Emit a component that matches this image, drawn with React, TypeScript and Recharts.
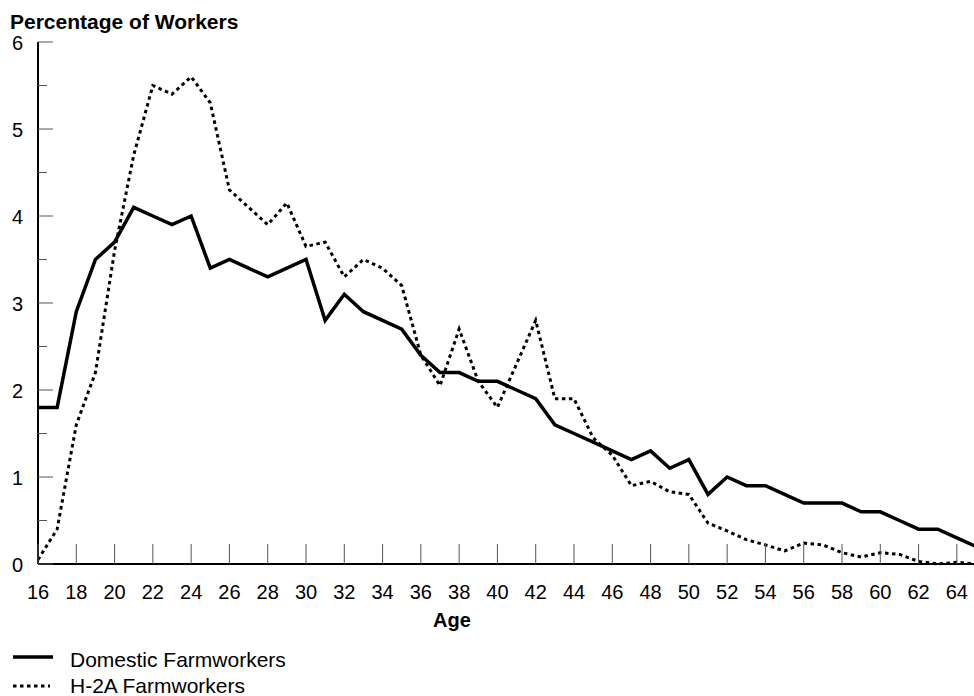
import { LineChart, Line, XAxis, YAxis } from 'recharts';

const FONT = '"Liberation Sans", Arial, sans-serif';

// age in years, one point per year
const ages = [
  16, 17, 18, 19, 20, 21, 22, 23, 24, 25, 26, 27, 28, 29, 30, 31, 32, 33, 34, 35,
  36, 37, 38, 39, 40, 41, 42, 43, 44, 45, 46, 47, 48, 49, 50, 51, 52, 53, 54, 55,
  56, 57, 58, 59, 60, 61, 62, 63, 64, 65,
];

const domestic = [
  1.8, 1.8, 2.9, 3.5, 3.7, 4.1, 4.0, 3.9, 4.0, 3.4, 3.5, 3.4, 3.3, 3.4, 3.5, 2.8, 3.1, 2.9, 2.8, 2.7,
  2.4, 2.2, 2.2, 2.1, 2.1, 2.0, 1.9, 1.6, 1.5, 1.4, 1.3, 1.2, 1.3, 1.1, 1.2, 0.8, 1.0, 0.9, 0.9, 0.8,
  0.7, 0.7, 0.7, 0.6, 0.6, 0.5, 0.4, 0.4, 0.3, 0.2,
];

const h2a = [
  0.05, 0.4, 1.6, 2.2, 3.6, 4.7, 5.5, 5.4, 5.6, 5.3, 4.3, 4.1, 3.9, 4.15, 3.65, 3.7, 3.3, 3.5, 3.4, 3.2,
  2.4, 2.05, 2.7, 2.1, 1.8, 2.3, 2.8, 1.9, 1.9, 1.45, 1.25, 0.9, 0.95, 0.83, 0.8, 0.47, 0.38, 0.28, 0.22, 0.15,
  0.24, 0.22, 0.13, 0.08, 0.13, 0.11, 0.03, 0.0, 0.02, 0.0,
];

const ageTicks = [16, 18, 20, 22, 24, 26, 28, 30, 32, 34, 36, 38, 40, 42, 44, 46, 48, 50, 52, 54, 56, 58, 60, 62, 64];
const pctTicks = [0, 0.5, 1, 1.5, 2, 2.5, 3, 3.5, 4, 4.5, 5, 5.5, 6];

const series = [
  { key: 'domestic', name: 'Domestic Farmworkers', width: 3.5, dash: undefined as string | undefined },
  { key: 'h2a', name: 'H-2A Farmworkers', width: 3, dash: '3.5 3.5' },
];

const data = ages.map((age, i) => ({ age, domestic: domestic[i], h2a: h2a[i] }));

function AgeTick({ x, y, payload }: any) {
  return (
    <g>
      <line x1={x} x2={x} y1={y} y2={y - 20} stroke="#555" strokeWidth={1} />
      <text x={x} y={y + 35} textAnchor="middle" fontSize={20} fontFamily={FONT} fill="#000">
        {payload.value}
      </text>
    </g>
  );
}

function PctTick({ x, y, payload }: any) {
  const major = Number.isInteger(payload.value);
  return (
    <g>
      <line x1={x} x2={x + (major ? 15 : 9)} y1={y} y2={y} stroke="#555" strokeWidth={1} />
      {major && (
        <text x={x - 15} y={y + 8} textAnchor="end" fontSize={20} fontFamily={FONT} fill="#000">
          {payload.value}
        </text>
      )}
    </g>
  );
}

export default function App() {
  return (
    <div style={{ position: 'absolute', left: 0, top: 0, width: 974, height: 696, overflow: 'hidden', background: '#fff' }}>
      <LineChart width={976} height={696} data={data} margin={{ top: 42, right: 0, bottom: 0, left: 0 }}>
        <XAxis
          dataKey="age"
          type="number"
          domain={[16, 65]}
          ticks={ageTicks}
          interval={0}
          height={132}
          tickSize={0}
          tickMargin={0}
          tickLine={false}
          axisLine={{ stroke: '#000', strokeWidth: 2 }}
          tick={<AgeTick />}
        />
        <YAxis
          type="number"
          domain={[0, 6]}
          ticks={pctTicks}
          interval={0}
          width={38}
          tickSize={0}
          tickMargin={0}
          tickLine={false}
          axisLine={{ stroke: '#000', strokeWidth: 2 }}
          tick={<PctTick />}
        />
        {series.map((s) => (
          <Line
            key={s.key}
            dataKey={s.key}
            name={s.name}
            type="linear"
            stroke="#000"
            strokeWidth={s.width}
            strokeDasharray={s.dash}
            dot={false}
            activeDot={false}
            isAnimationActive={false}
          />
        ))}
      </LineChart>

      <svg width={974} height={696} style={{ position: 'absolute', left: 0, top: 0, pointerEvents: 'none' }}>
        <text x={10} y={29} fontSize={21} fontWeight="bold" fontFamily={FONT} fill="#000">
          Percentage of Workers
        </text>
        <text x={452} y={627} textAnchor="middle" fontSize={20} fontWeight="bold" fontFamily={FONT} fill="#000">
          Age
        </text>
        {series.map((s, i) => (
          <g key={s.key}>
            <line
              x1={13}
              x2={i === 0 ? 53 : 50}
              y1={657 + i * 29}
              y2={657 + i * 29}
              stroke="#000"
              strokeWidth={s.width}
              strokeDasharray={s.dash}
            />
            <text x={70} y={667 + i * 26} fontSize={21} fontFamily={FONT} fill="#000">
              {s.name}
            </text>
          </g>
        ))}
      </svg>
    </div>
  );
}
